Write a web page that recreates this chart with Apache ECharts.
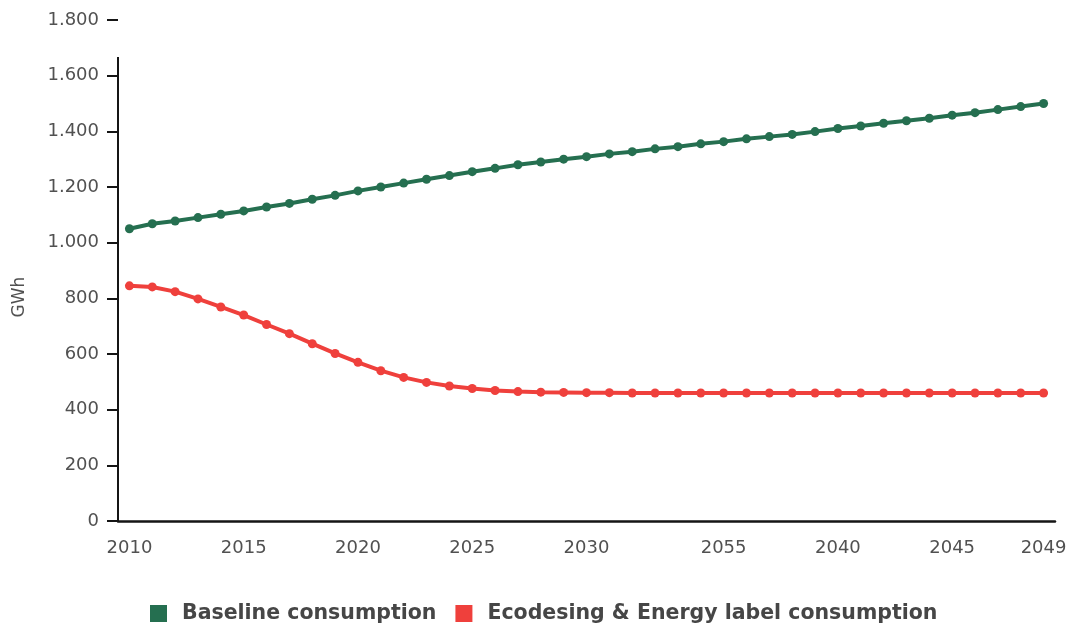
<!DOCTYPE html>
<html>
<head>
<meta charset="utf-8">
<script src="https://cdn.jsdelivr.net/npm/echarts@6/dist/echarts.min.js"></script>
<style>
  html, body { margin: 0; padding: 0; background: #fff; }
  #chart { width: 1073px; height: 630px; }
</style>
</head>
<body>
<div id="chart"></div>
<script>
// Axis labels shown under the 41 points (blank = no label)
const tickLabels = [
  '2010', '', '', '', '', '2015', '', '', '', '', '2020', '', '', '', '', '2025', '', '', '', '',
  '2030', '', '', '', '', '', '2055', '', '', '', '', '2040', '', '', '', '', '2045', '', '', '', '2049'
];

const seriesNames = ['Baseline consumption', 'Ecodesing & Energy label consumption'];

// GWh per point
const baseline = [
  1050, 1068, 1078, 1090, 1102, 1114, 1128, 1141, 1156, 1170,
  1186, 1200, 1214, 1228, 1241, 1255, 1267, 1280, 1290, 1300,
  1309, 1319, 1327, 1337, 1345, 1355, 1363, 1373, 1381, 1389,
  1399, 1410, 1419, 1429, 1438, 1447, 1458, 1467, 1478, 1489, 1500
];
const ecodesign = [
  845, 841, 824, 798, 769, 740, 706, 673, 637, 602,
  570, 540, 516, 498, 485, 476, 469, 465, 463, 462,
  461, 461, 460, 460, 460, 460, 460, 460, 460, 460,
  460, 460, 460, 460, 460, 460, 460, 460, 460, 460, 460
];

const yTicks = { min: 0, max: 1800, interval: 200 };

const GREEN = '#256f50';
const RED = '#ef403c';
const TEXT = '#515151';
const AXIS = '#151515';
const FONT = '"DejaVu Sans", "Noto Sans", sans-serif';

const chart = echarts.init(document.getElementById('chart'), null, { renderer: 'canvas' });

const fmtThousands = v => String(v).replace(/\B(?=(\d{3})+(?!\d))/g, '.');

chart.setOption({
  animation: false,
  backgroundColor: '#ffffff',
  textStyle: { fontFamily: FONT },
  grid: { left: 118, right: 18, top: 20, bottom: 109 },
  legend: {
    data: seriesNames,
    left: 145,
    top: 598,
    icon: 'rect',
    itemWidth: 17,
    itemHeight: 17,
    itemGap: 19,
    textStyle: {
      fontFamily: FONT,
      fontSize: 20.5,
      fontWeight: 'bold',
      color: '#464646',
      padding: [0, 0, 0, 10]
    }
  },
  xAxis: {
    type: 'category',
    data: tickLabels.map((_, i) => i),
    boundaryGap: true,
    axisLine: { show: true, lineStyle: { color: AXIS, width: 2.5 } },
    axisTick: { show: false },
    splitLine: { show: false },
    axisLabel: {
      interval: 0,
      margin: 18,
      color: TEXT,
      fontSize: 18,
      fontFamily: FONT,
      formatter: (value, index) => tickLabels[index]
    }
  },
  yAxis: {
    type: 'value',
    min: yTicks.min,
    max: yTicks.max,
    interval: yTicks.interval,
    axisLine: { show: false },
    axisTick: { show: true, length: 11, lineStyle: { color: AXIS, width: 2 } },
    splitLine: { show: false },
    axisLabel: {
      margin: 19,
      color: TEXT,
      fontSize: 18,
      fontFamily: FONT,
      formatter: fmtThousands
    }
  },
  graphic: [
    {
      // vertical axis line (stops short of the top tick)
      type: 'line',
      shape: { x1: 118, y1: 57, x2: 118, y2: 521 },
      style: { stroke: AXIS, lineWidth: 2 },
      z: 10
    },
    {
      type: 'text',
      x: 20,
      y: 297,
      rotation: Math.PI / 2,
      style: {
        text: 'GWh',
        fill: TEXT,
        font: '17px ' + FONT,
        textAlign: 'center',
        textVerticalAlign: 'middle'
      }
    }
  ],
  series: [
    {
      name: seriesNames[0],
      type: 'line',
      data: baseline,
      color: GREEN,
      symbol: 'circle',
      symbolSize: 9,
      lineStyle: { width: 4, color: GREEN },
      itemStyle: { color: GREEN }
    },
    {
      name: seriesNames[1],
      type: 'line',
      data: ecodesign,
      color: RED,
      symbol: 'circle',
      symbolSize: 9,
      lineStyle: { width: 4, color: RED },
      itemStyle: { color: RED }
    }
  ]
});
</script>
</body>
</html>
